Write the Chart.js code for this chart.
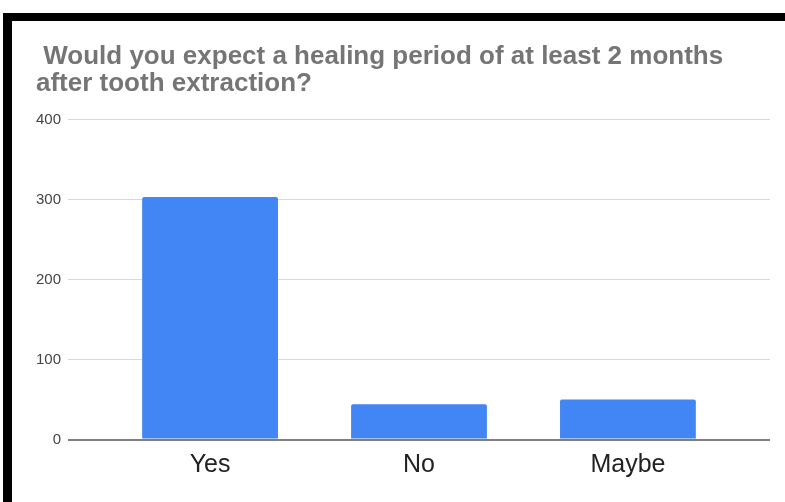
<!DOCTYPE html>
<html>
<head>
<meta charset="utf-8">
<script src="https://cdn.jsdelivr.net/npm/chart.js@4"></script>
<style>
    html, body { margin: 0; padding: 0; background: #fff; }
    #wrap { position: relative; width: 785px; height: 502px; overflow: hidden; }
    #survey-chart { position: absolute; left: 0; top: 0; }
    .edge { position: absolute; background: #000; }
</style>
</head>
<body>
<div id="wrap">
    <canvas id="survey-chart" width="785" height="502"></canvas>
    <div class="edge" style="left:3px; top:13px; width:782px; height:8px;"></div>
    <div class="edge" style="left:3px; top:13px; width:9px; height:489px;"></div>
</div>
<script>
/***************************  Data  ******************************/
var answers = ['Yes', 'No', 'Maybe'];
var responses = [303, 44, 50];
var yTicks = [0, 100, 200, 300, 400];
var chartTitle = [' Would you expect a healing period of at least 2 months', 'after tooth extraction?'];

var fontFamily = '"Liberation Sans", Arial, sans-serif';

// bars sit on a linear x scale so the categories can be inset from the grid ends
var points = [];
for (i = 0; i < answers.length; i++) {
    points.push({ x: i, y: responses[i] });
}

var ctx = document.getElementById('survey-chart');
var surveyChart = new Chart(ctx, {
    type: 'bar',
    data: {
        datasets: [{
            data: points,
            backgroundColor: '#4285f4',
            borderWidth: 0,
            borderRadius: 2,
            barPercentage: 0.65,
            categoryPercentage: 1
        }]
    },
    options: {
        responsive: false,
        animation: false,
        devicePixelRatio: 1,
        layout: {
            padding: { left: 36, right: 15, top: 0, bottom: 0 }
        },
        plugins: {
            legend: { display: false },
            tooltip: { enabled: false },
            title: {
                display: true,
                text: chartTitle,
                align: 'start',
                color: '#757575',
                font: { family: fontFamily, size: 26, weight: 'bold', lineHeight: '27px' },
                padding: { top: 43, bottom: 22.5 }
            }
        },
        scales: {
            x: {
                type: 'linear',
                offset: false,
                min: -0.68,
                max: 2.68,
                grid: { display: false, drawTicks: false },
                border: { display: false },
                afterBuildTicks: function(scale) {
                    scale.ticks = answers.map(function(a, i) { return { value: i }; });
                },
                afterFit: function(scale) {
                    scale.height = 62.5;
                },
                ticks: {
                    padding: 11,
                    color: '#222',
                    font: { family: fontFamily, size: 25 },
                    callback: function(value) { return answers[value]; }
                }
            },
            y: {
                min: 0,
                max: 400,
                grid: {
                    drawTicks: false,
                    color: function(c) { return c.tick && c.tick.value === 0 ? '#7f7f7f' : '#d9d9d9'; },
                    lineWidth: function(c) { return c.tick && c.tick.value === 0 ? 2 : 1; }
                },
                border: { display: false },
                afterBuildTicks: function(scale) {
                    scale.ticks = yTicks.map(function(v) { return { value: v }; });
                },
                afterFit: function(scale) {
                    scale.width = 32;
                },
                ticks: {
                    padding: 7,
                    color: '#444',
                    font: { family: fontFamily, size: 15 }
                }
            }
        }
    }
});
</script>
</body>
</html>
